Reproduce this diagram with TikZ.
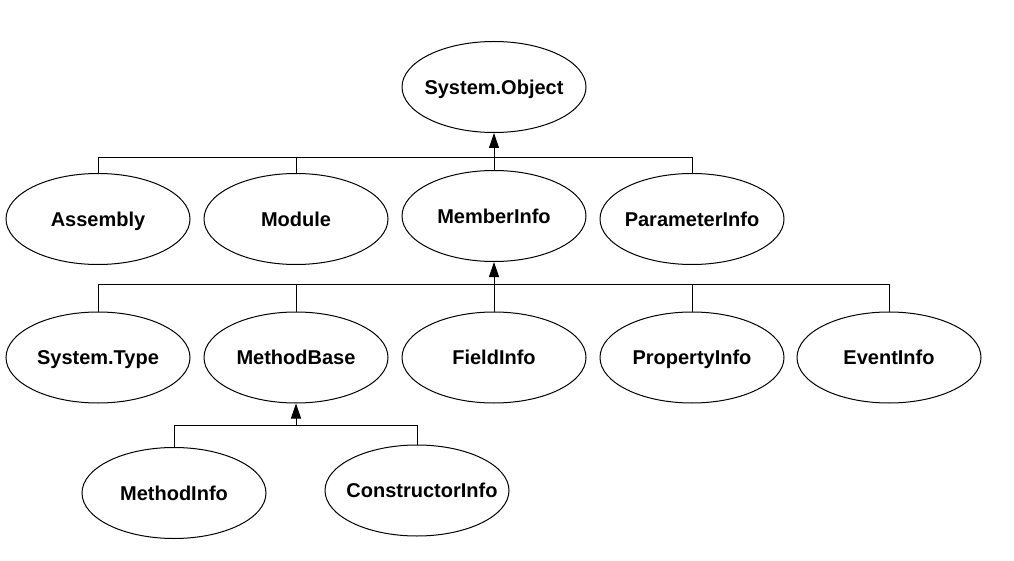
\documentclass[tikz,border=0pt]{standalone}
\usepackage{fontspec}
\setmainfont{Liberation Sans}
\usetikzlibrary{shapes.geometric,arrows.meta}
\newcommand{\cname}[1]{\makebox[0pt]{#1}}
\begin{document}
\begin{tikzpicture}[x=1pt,y=-1pt,
  cls/.style={ellipse,draw,line width=1pt,minimum width=184pt,minimum height=91pt,inner sep=0pt,
    text height=14.3pt,text depth=0pt,
    font=\fontsize{20}{24}\selectfont\bfseries},
  link/.style={line width=1pt},
  inh/.style={line width=1pt,-{Triangle[length=15pt,width=10pt]}}]
\useasboundingbox (0,0) rectangle (1014,561);
% nodes
\node[cls] (obj) at (494,87) {\cname{System.Object}};
\node[cls] (asm) at (98,219) {\cname{Assembly}};
\node[cls] (mod) at (296,219) {\cname{Module}};
\node[cls] (mem) at (494,216) {\cname{MemberInfo}};
\node[cls] (par) at (692,219) {\cname{ParameterInfo}};
\node[cls] (typ) at (98,357.5) {\cname{System.Type}};
\node[cls] (mb)  at (296,357.5) {\cname{MethodBase}};
\node[cls] (fld) at (494,357.5) {\cname{FieldInfo}};
\node[cls] (prp) at (692,357.5) {\cname{PropertyInfo}};
\node[cls] (evt) at (889,357.5) {\cname{EventInfo}};
\node[cls] (mi)  at (174,493) {\cname{MethodInfo}};
\node[cls] (ci)  at (417,490.5) {\cname{\hspace{10pt}ConstructorInfo}};
% junctions
\coordinate (j1) at (494,158);
\coordinate (j2) at (494,284.5);
\coordinate (j3) at (296,425.5);
% level 1
\draw[inh] (j1) -- (obj.south);
\draw[link] (asm.north) |- (j1);
\draw[link] (mod.north) |- (j1);
\draw[link] (mem.north) -- (j1);
\draw[link] (par.north) |- (j1);
% level 2
\draw[inh] (j2) -- (mem.south);
\draw[link] (typ.north) |- (j2);
\draw[link] (mb.north) |- (j2);
\draw[link] (fld.north) -- (j2);
\draw[link] (prp.north) |- (j2);
\draw[link] (evt.north) |- (j2);
% level 3
\draw[inh] (j3) -- (mb.south);
\draw[link] (mi.north) |- (j3);
\draw[link] (ci.north) |- (j3);
\end{tikzpicture}
\end{document}
